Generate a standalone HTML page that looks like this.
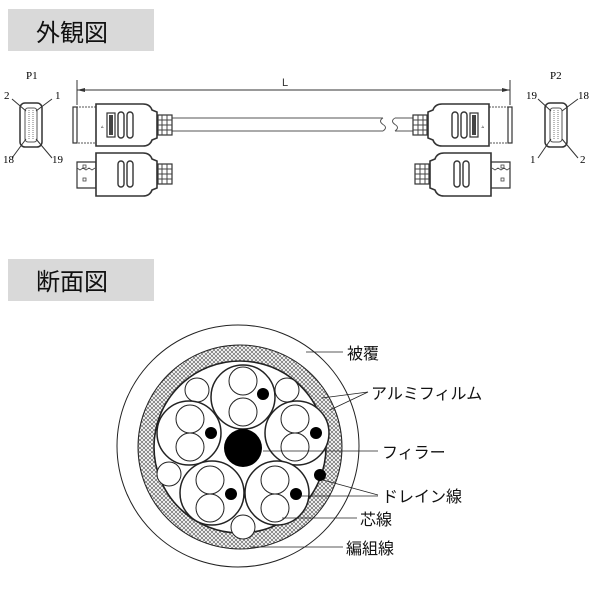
<!DOCTYPE html>
<html><head><meta charset="utf-8"><style>
body{margin:0;background:#fff}
svg{display:block}
text{font-family:"Liberation Sans","Noto Sans CJK JP",sans-serif}
.s{font-family:"Liberation Serif",serif;font-size:11px}
</style></head><body>
<svg width="600" height="600" viewBox="0 0 600 600" xmlns="http://www.w3.org/2000/svg">
<defs>
<pattern id="hx" width="4" height="4" patternUnits="userSpaceOnUse">
<rect width="4" height="4" fill="#fff"/>
<path d="M0,0L4,4M4,0L0,4" stroke="#666" stroke-width="0.7"/>
</pattern>
<g id="conA">
<rect x="73" y="107" width="23" height="36" fill="#fff" stroke="#555" stroke-dasharray="2,1"/>
<rect x="73" y="107" width="4" height="36" fill="#fff" stroke="#333" stroke-width="1.2"/>
<path d="M96,104 H143 Q150,104 152,110 L157,112 V138 L152,140 Q150,146 143,146 H96 Z" fill="#fff" stroke="#333" stroke-width="1.6"/>
<rect x="107" y="113" width="8" height="24" fill="#fff" stroke="#333" stroke-width="1.2"/>
<rect x="109" y="115" width="4" height="20" fill="#444"/>
<text x="101" y="128" font-size="5">▵</text>
<rect x="118" y="112" width="6" height="26" rx="3" fill="#fff" stroke="#333" stroke-width="1.4"/>
<rect x="127" y="112" width="6" height="26" rx="3" fill="#fff" stroke="#333" stroke-width="1.4"/>
<rect x="158" y="115" width="14" height="20" fill="#fff" stroke="#333" stroke-width="1.2"/>
<path d="M162,115V135M167,115V135M158,120H172M158,125H172M158,130H172" stroke="#444" stroke-width="1"/>
</g>
<g id="conB">
<path d="M77,162 H96 V188 H77 Z" fill="#fff" stroke="#333" stroke-width="1.2"/>
<path d="M77,168 l3,2 3,-2 3,2 3,-2 3,2 3,-2" fill="none" stroke="#444" stroke-width="0.8"/>
<rect x="83" y="165" width="3" height="3" fill="none" stroke="#444" stroke-width="0.8"/>
<rect x="83" y="178" width="3" height="3" fill="none" stroke="#444" stroke-width="0.8"/>
<path d="M96,153 H143 Q150,153 152,159 L157,161 V188 L152,190 Q150,196 143,196 H96 Z" fill="#fff" stroke="#333" stroke-width="1.6"/>
<rect x="118" y="161" width="6" height="26" rx="3" fill="#fff" stroke="#333" stroke-width="1.4"/>
<rect x="127" y="161" width="6" height="26" rx="3" fill="#fff" stroke="#333" stroke-width="1.4"/>
<rect x="158" y="164" width="14" height="20" fill="#fff" stroke="#333" stroke-width="1.2"/>
<path d="M162,164V184M167,164V184M158,169H172M158,174H172M158,179H172" stroke="#444" stroke-width="1"/>
</g>
<g id="pin">
<rect x="20" y="103" width="22" height="44" rx="5" fill="#fff" stroke="#333" stroke-width="1.5"/>
<rect x="25" y="108" width="12" height="34" rx="3" fill="#fff" stroke="#555"/>
<path d="M29,110V140M33,110V140" stroke="#777" stroke-dasharray="1,1"/>
</g>
</defs>

<rect x="8" y="9" width="146" height="42" fill="#d9d9d9"/>
<text x="36" y="41" font-size="24" fill="#111">外観図</text>
<rect x="8" y="259" width="146" height="42" fill="#d9d9d9"/>
<text x="36" y="290" font-size="24" fill="#111">断面図</text>

<line x1="77" y1="80" x2="77" y2="105" stroke="#333"/>
<line x1="510" y1="80" x2="510" y2="105" stroke="#333"/>
<line x1="77" y1="90" x2="510" y2="90" stroke="#333"/>
<path d="M77,90 l8,-2 v4z M510,90 l-8,-2 v4z" fill="#333"/>
<text x="282" y="86" font-size="11" fill="#333">L</text>

<path d="M172,118H383M172,131H383M395,118H415M395,131H415" stroke="#555"/>
<path d="M383,118 q-5,3 0,6.5 q5,3 0,6.5 M395,118 q-5,3 0,6.5 q5,3 0,6.5" fill="none" stroke="#555"/>

<use href="#conA"/>
<use href="#conB"/>
<use href="#conA" transform="translate(585,0) scale(-1,1)"/>
<use href="#conB" transform="translate(587,0) scale(-1,1)"/>

<text x="26" y="79" class="s">P1</text>
<use href="#pin"/>
<path d="M12,99L26,111M52,99L36,111M12,158L26,139M52,158L36,139" stroke="#333"/>
<text x="4" y="99" class="s">2</text><text x="55" y="99" class="s">1</text>
<text x="3" y="163" class="s">18</text><text x="52" y="163" class="s">19</text>
<text x="550" y="79" class="s">P2</text>
<use href="#pin" transform="translate(525,0)"/>
<path d="M538,99L551,111M578,99L562,111M538,158L551,139M578,158L562,139" stroke="#333"/>
<text x="526" y="99" class="s">19</text><text x="578" y="99" class="s">18</text>
<text x="530" y="163" class="s">1</text><text x="580" y="163" class="s">2</text>

<g stroke="#222" fill="#fff">
<circle cx="238" cy="446" r="121" stroke-width="1"/>
<circle cx="240" cy="447" r="102" fill="url(#hx)" stroke-width="1"/>
<circle cx="240" cy="447" r="86" stroke-width="1.6"/>
<circle cx="197" cy="390" r="12"/>
<circle cx="287" cy="390" r="12"/>
<circle cx="169" cy="474" r="12"/>
<circle cx="243" cy="527" r="12"/>
<g stroke-width="1.5">
<circle cx="243" cy="397" r="32"/>
<circle cx="189" cy="433" r="32"/>
<circle cx="297" cy="433" r="32"/>
<circle cx="212" cy="493" r="32"/>
<circle cx="277" cy="493" r="32"/>
</g>
<circle cx="243" cy="381" r="14"/><circle cx="243" cy="412" r="14"/>
<circle cx="190" cy="419" r="14"/><circle cx="190" cy="447" r="14"/>
<circle cx="295" cy="419" r="14"/><circle cx="295" cy="447" r="14"/>
<circle cx="210" cy="480" r="14"/><circle cx="210" cy="508" r="14"/>
<circle cx="275" cy="480" r="14"/><circle cx="275" cy="508" r="14"/>
</g>
<g fill="#000">
<circle cx="243" cy="448" r="19"/>
<circle cx="263" cy="394" r="6"/><circle cx="211" cy="433" r="6"/>
<circle cx="316" cy="433" r="6"/><circle cx="231" cy="494" r="6"/>
<circle cx="296" cy="494" r="6"/><circle cx="320" cy="475" r="6"/>
</g>
<g stroke="#222" stroke-width="0.8">
<line x1="306" y1="352" x2="343" y2="352"/>
<line x1="322" y1="398" x2="368" y2="392"/>
<line x1="330" y1="410" x2="368" y2="392"/>
<line x1="263" y1="451" x2="378" y2="451"/>
<line x1="323" y1="480" x2="378" y2="495"/>
<line x1="300" y1="496" x2="378" y2="496"/>
<line x1="282" y1="518" x2="357" y2="518"/>
<line x1="250" y1="547" x2="343" y2="547"/>
</g>
<g font-size="16" fill="#111">
<text x="347" y="359">被覆</text>
<text x="371" y="399">アルミフィルム</text>
<text x="382" y="458">フィラー</text>
<text x="382" y="502">ドレイン線</text>
<text x="360" y="525">芯線</text>
<text x="346" y="554">編組線</text>
</g>
</svg>
</body></html>
